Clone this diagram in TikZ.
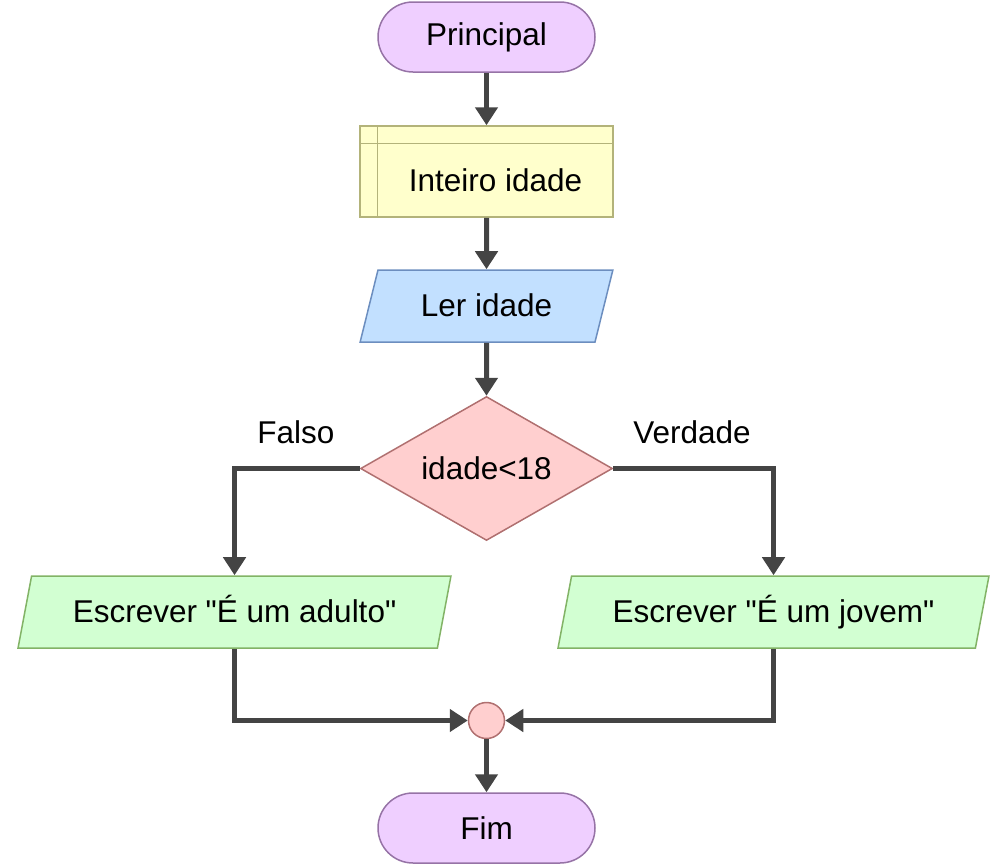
\documentclass[tikz,border=0pt]{standalone}
\usepackage{fontspec}
\setmainfont{Liberation Sans}
\usepackage{tikz}
\usetikzlibrary{shapes.geometric,calc,arrows.meta}

\definecolor{linha}{HTML}{444444}
\definecolor{roxoF}{HTML}{EFCFFF}\definecolor{roxoD}{HTML}{9673A6}
\definecolor{amarF}{HTML}{FFFFCC}\definecolor{amarD}{HTML}{B3B37A}
\definecolor{azulF}{HTML}{C2E0FF}\definecolor{azulD}{HTML}{6C8EBF}
\definecolor{vermF}{HTML}{FFCFCF}\definecolor{vermD}{HTML}{B07070}
\definecolor{verdF}{HTML}{D2FFD2}\definecolor{verdD}{HTML}{82B366}

\tikzset{
  terminal/.style={draw=roxoD,fill=roxoF,line width=1.5,rounded corners=35,
    minimum width=217,minimum height=70},
  parall/.style={trapezium,trapezium left angle=62.8,trapezium right angle=117.2,
    trapezium stretches=true,line width=1.5,minimum height=72,inner sep=0,
    text height=21,text depth=0},
  seta/.style={draw=linha,line width=5,-{Triangle[width=22,length=18]}},
}

\begin{document}
\begin{tikzpicture}[x=1pt,y=-1pt,font=\fontsize{31.5}{38}\selectfont]
       \useasboundingbox(0,0)rectangle(991,865);%枠

       \node[terminal](ini)at(486.5,37){Principal};%開始
       \node[draw=amarD,fill=amarF,line width=1.5,minimum width=253,minimum height=91,
             label={[xshift=9,yshift=-9]center:Inteiro idade}](vars)at(486.5,171.5){};%変数
       \draw[amarD,line width=1.5]([xshift=18]vars.north west)--([xshift=18]vars.south west);
       \draw[amarD,line width=1.5]([yshift=-18]vars.north west)--([yshift=-18]vars.north east);
       \node[parall,draw=azulD,fill=azulF,minimum width=253](ler)at(486.5,306){Ler idade};%入力
       \node[diamond,aspect=1.75,draw=vermD,fill=vermF,line width=1.5,minimum width=252,
             minimum height=144,inner sep=0](cond)at(486.5,468.5){idade<18};%条件
       \node[parall,draw=verdD,fill=verdF,minimum width=435](adulto)at(234.5,612)
           {Escrever \textquotedbl É um adulto\textquotedbl};%偽
       \node[parall,draw=verdD,fill=verdF,minimum width=433](jovem)at(773.5,612)
           {Escrever \textquotedbl É um jovem\textquotedbl};%真
       \node[circle,draw=vermD,fill=vermF,line width=1.5,minimum size=36,inner sep=0]
           (junta)at(486.5,720.5){};%合流
       \node[terminal](fim)at(486.5,828){Fim};%終了

       \node(falso)at(296,432){Falso};
       \node(verdade)at(692,432){Verdade};

       \draw[seta](ini)--(vars);
       \draw[seta](vars)--(ler);
       \draw[seta](ler)--(cond);
       \draw[seta](cond.west)-|(adulto.north);
       \draw[seta](cond.east)-|(jovem.north);
       \draw[seta](adulto.south)|-(junta.west);
       \draw[seta](jovem.south)|-(junta.east);
       \draw[seta](junta)--(fim);

      \end{tikzpicture}
\end{document}
